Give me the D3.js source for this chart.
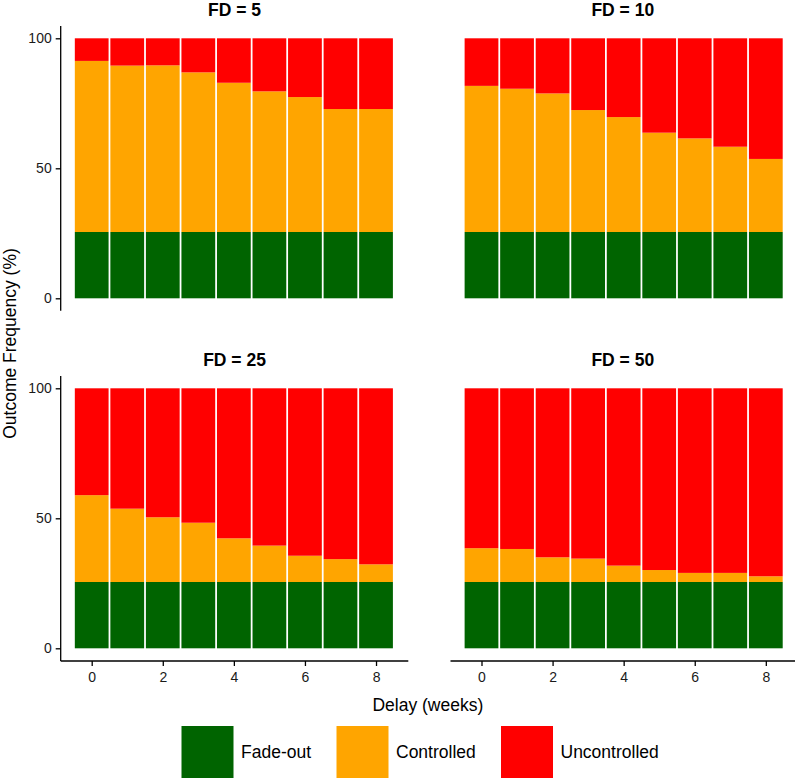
<!DOCTYPE html>
<html>
<head>
<meta charset="utf-8">
<script src="https://cdn.jsdelivr.net/npm/d3@7/dist/d3.min.js"></script>
<style>
  html, body { margin: 0; padding: 0; background: #fff; }
  svg { display: block; font-family: "Liberation Sans", Arial, sans-serif; }
</style>
</head>
<body>
<svg id="chart" width="800" height="780"></svg>
<script>
// ---- data ----
const delays = [0, 1, 2, 3, 4, 5, 6, 7, 8];
const panelTitles = ["FD = 5", "FD = 10", "FD = 25", "FD = 50"];
const outcomes = ["Fade-out", "Controlled", "Uncontrolled"];
const outcomeColors = ["#006400", "#FFA500", "#FF0000"];
const yTicks = [0, 50, 100];
const xTicks = [0, 2, 4, 6, 8];

const fadeOutFD5  = [25.5, 25.5, 25.5, 25.5, 25.5, 25.5, 25.5, 25.5, 25.5];
const controlledFD5   = [65.8, 64.0, 64.1, 61.4, 57.4, 54.1, 51.9, 47.3, 47.3];
const uncontrolledFD5 = [8.7, 10.5, 10.4, 13.1, 17.1, 20.4, 22.6, 27.2, 27.2];

const fadeOutFD10 = [25.5, 25.5, 25.5, 25.5, 25.5, 25.5, 25.5, 25.5, 25.5];
const controlledFD10   = [56.2, 55.1, 53.3, 46.9, 44.2, 38.2, 36.0, 32.8, 28.1];
const uncontrolledFD10 = [18.3, 19.4, 21.2, 27.6, 30.3, 36.3, 38.5, 41.7, 46.4];

const fadeOutFD25 = [25.5, 25.5, 25.5, 25.5, 25.5, 25.5, 25.5, 25.5, 25.5];
const controlledFD25   = [33.4, 28.2, 24.9, 22.8, 16.8, 14.0, 10.1, 8.8, 6.8];
const uncontrolledFD25 = [41.1, 46.3, 49.6, 51.7, 57.7, 60.5, 64.4, 65.7, 67.7];

const fadeOutFD50 = [25.5, 25.5, 25.5, 25.5, 25.5, 25.5, 25.5, 25.5, 25.5];
const controlledFD50   = [13.0, 12.7, 9.5, 9.0, 6.3, 4.6, 3.5, 3.5, 2.2];
const uncontrolledFD50 = [61.5, 61.8, 65.0, 65.5, 68.2, 69.9, 71.0, 71.0, 72.3];

const panelSeries = [
  [fadeOutFD5, controlledFD5, uncontrolledFD5],
  [fadeOutFD10, controlledFD10, uncontrolledFD10],
  [fadeOutFD25, controlledFD25, uncontrolledFD25],
  [fadeOutFD50, controlledFD50, uncontrolledFD50]
];

// ---- layout ----
const svg = d3.select("#chart");
const colX = [{ left: 60.7, right: 408.3, x0: 91.7 }, { left: 450.5, right: 795, x0: 481.5 }];
const rowY = [{ top: 26, bottom: 310.7, y100: 38.3, y0: 298.3 }, { top: 376, bottom: 661, y100: 388.3, y0: 648.3 }];
const unit = 35.54;
const font = '"Liberation Sans", Arial, sans-serif';

panelSeries.forEach((series, i) => {
  const col = i % 2, row = Math.floor(i / 2);
  const cx = colX[col], ry = rowY[row];
  const x = d3.scaleLinear().domain([0, 8]).range([cx.x0, cx.x0 + 8 * unit]);
  const y = d3.scaleLinear().domain([0, 100]).range([ry.y0, ry.y100]);

  const table = delays.map((d, j) => {
    const o = { delay: d };
    outcomes.forEach((k, s) => o[k] = series[s][j]);
    return o;
  });
  const stacked = d3.stack().keys(outcomes)(table);
  const g = svg.append("g");
  const bw = 0.95;

  g.selectAll("g.layer").data(stacked).join("g")
    .attr("fill", (d, s) => outcomeColors[s])
    .selectAll("rect").data(d => d).join("rect")
    .attr("x", d => x(d.data.delay - bw / 2))
    .attr("width", d => x(d.data.delay + bw / 2) - x(d.data.delay - bw / 2))
    .attr("y", d => y(d[1]))
    .attr("height", d => y(d[0]) - y(d[1]));

  // title
  svg.append("text")
    .attr("x", (cx.left + cx.right) / 2)
    .attr("y", ry.top - 10)
    .attr("text-anchor", "middle")
    .attr("font-family", font)
    .attr("font-weight", "bold")
    .attr("font-size", 17.5)
    .attr("fill", "#000")
    .text(panelTitles[i]);

  // y axis on left panels
  if (col === 0) {
    const ya = svg.append("g").attr("transform", `translate(${cx.left},0)`)
      .call(d3.axisLeft(y).tickValues(yTicks).tickSize(5).tickPadding(4));
    ya.select(".domain").attr("d", `M0,${ry.top}V${ry.bottom}`).attr("stroke", "#000").attr("stroke-width", 1.3);
    ya.selectAll(".tick line").attr("stroke", "#000").attr("stroke-width", 1.3);
    ya.selectAll(".tick text").attr("font-family", font).attr("font-size", 14).attr("fill", "#1a1a1a");
  }
  // x axis on bottom panels
  if (row === 1) {
    const xa = svg.append("g").attr("transform", `translate(0,${ry.bottom})`)
      .call(d3.axisBottom(x).tickValues(xTicks).tickSize(5).tickPadding(6).tickFormat(d3.format("d")));
    xa.select(".domain").attr("d", `M${cx.left},0H${cx.right}`).attr("stroke", "#000").attr("stroke-width", 1.3);
    xa.selectAll(".tick line").attr("stroke", "#000").attr("stroke-width", 1.3);
    xa.selectAll(".tick text").attr("font-family", font).attr("font-size", 14).attr("fill", "#1a1a1a");
  }
});

// axis titles
svg.append("text")
  .attr("x", (colX[0].left + colX[1].right) / 2)
  .attr("y", 711)
  .attr("text-anchor", "middle")
  .attr("font-family", font)
  .attr("font-size", 17.5)
  .attr("fill", "#000")
  .text("Delay (weeks)");

svg.append("text")
  .attr("transform", `translate(16,${(rowY[0].top + rowY[1].bottom) / 2}) rotate(-90)`)
  .attr("text-anchor", "middle")
  .attr("font-family", font)
  .attr("font-size", 17.5)
  .attr("fill", "#000")
  .text("Outcome Frequency (%)");

// legend
const legendX = [181.5, 336.5, 501];
const lg = svg.append("g");
outcomes.forEach((k, s) => {
  lg.append("rect")
    .attr("x", legendX[s]).attr("y", 726)
    .attr("width", 52).attr("height", 52)
    .attr("fill", outcomeColors[s]);
  lg.append("text")
    .attr("x", legendX[s] + 59.5).attr("y", 758)
    .attr("font-family", font)
    .attr("font-size", 17.5)
    .attr("fill", "#000")
    .text(k);
});
</script>
</body>
</html>
